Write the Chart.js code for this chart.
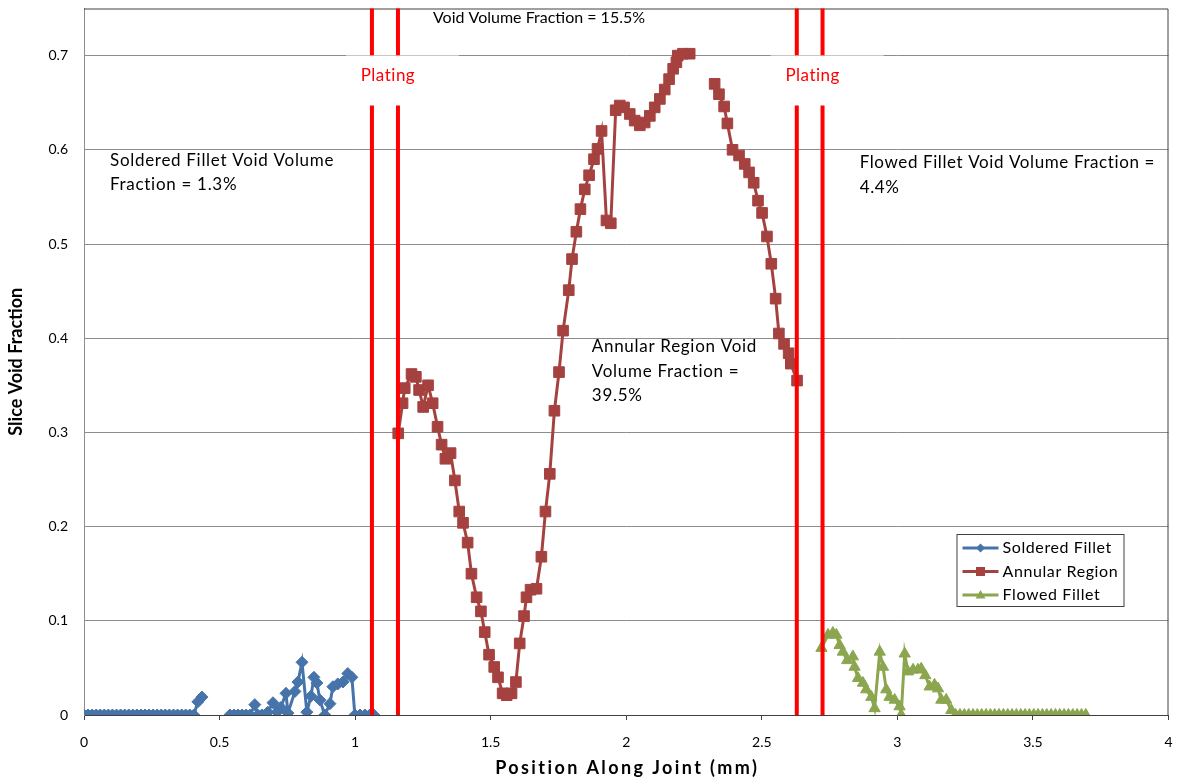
<!DOCTYPE html>
<html>
<head>
<meta charset="utf-8">
<script src="https://cdn.jsdelivr.net/npm/chart.js@4.4.0/dist/chart.umd.min.js"></script>
<style>
  html, body { margin: 0; padding: 0; background: #fff; }
</style>
</head>
<body>
<canvas id="chart" width="1177" height="782"></canvas>
<script>
// Soldered fillet (blue diamonds), null = break in the line
const solderedX = [0, 0.015, 0.03, 0.045, 0.06, 0.075, 0.09, 0.105, 0.12, 0.135, 0.15, 0.165, 0.18, 0.195,
  0.21, 0.225, 0.24, 0.255, 0.27, 0.285, 0.3, 0.315, 0.33, 0.345, 0.36, 0.375, 0.39, 0.405, 0.42, 0.435,
  0.49, 0.538, 0.553, 0.568, 0.583, 0.598, 0.613, 0.63, 0.641, 0.656, 0.667, 0.678, 0.697, 0.712, 0.726,
  0.745, 0.752, 0.778, 0.789, 0.804, 0.822, 0.837, 0.848, 0.859, 0.87, 0.888, 0.907, 0.918, 0.936, 0.955,
  0.973, 0.988, 0.999, 1.018, 1.036, 1.054, 1.069];
const solderedY = [0, 0, 0, 0, 0, 0, 0, 0, 0, 0, 0, 0, 0, 0,
  0, 0, 0, 0, 0, 0, 0, 0, 0, 0, 0, 0, 0, 0, 0.014, 0.019,
  null, 0, 0, 0, 0, 0, 0, 0.011, 0, 0, 0, 0.003, 0.013, 0.003, 0.008,
  0.023, 0.002, 0.025, 0.035, 0.056, 0.003, 0.020, 0.040, 0.034, 0.016, 0, 0.012, 0.030, 0.033, 0.035,
  0.044, 0.040, 0, 0, 0, 0, 0];

// Annular region (red squares)
const annularX = [1.159, 1.175, 1.183, 1.208, 1.224, 1.236, 1.251, 1.269, 1.286, 1.304, 1.319, 1.333,
  1.352, 1.368, 1.384, 1.398, 1.415, 1.429, 1.448, 1.464, 1.478, 1.494, 1.513, 1.527, 1.544, 1.559,
  1.577, 1.593, 1.607, 1.623, 1.632, 1.647, 1.669, 1.687, 1.702, 1.718, 1.735, 1.752, 1.767, 1.788,
  1.800, 1.816, 1.831, 1.847, 1.863, 1.881, 1.894, 1.909, 1.927, 1.943, 1.961, 1.976, 1.992, 2.013,
  2.031, 2.050, 2.068, 2.087, 2.105, 2.124, 2.142, 2.158, 2.173, 2.185, 2.190, 2.209, 2.234,
  2.28,
  2.326, 2.342, 2.361, 2.373, 2.392, 2.416, 2.437, 2.453, 2.470, 2.486, 2.501, 2.519, 2.535, 2.551,
  2.563, 2.582, 2.599, 2.607, 2.630];
const annularY = [0.299, 0.331, 0.347, 0.362, 0.359, 0.345, 0.327, 0.350, 0.331, 0.306, 0.287, 0.272,
  0.278, 0.249, 0.216, 0.204, 0.183, 0.150, 0.125, 0.110, 0.088, 0.064, 0.051, 0.040, 0.023, 0.021,
  0.023, 0.035, 0.076, 0.105, 0.125, 0.133, 0.134, 0.168, 0.216, 0.256, 0.323, 0.364, 0.408, 0.451,
  0.484, 0.513, 0.537, 0.558, 0.573, 0.590, 0.601, 0.620, 0.525, 0.522, 0.642, 0.647, 0.645, 0.638,
  0.631, 0.626, 0.629, 0.636, 0.645, 0.654, 0.664, 0.675, 0.686, 0.693, 0.700, 0.702, 0.702,
  null,
  0.670, 0.659, 0.646, 0.628, 0.600, 0.594, 0.585, 0.576, 0.565, 0.546, 0.533, 0.508, 0.479, 0.442,
  0.405, 0.394, 0.384, 0.373, 0.355];

// Flowed fillet (green triangles)
const flowedX = [2.720, 2.744, 2.762, 2.775, 2.787, 2.799, 2.815, 2.836, 2.842, 2.855, 2.873, 2.885,
  2.904, 2.916, 2.935, 2.947, 2.959, 2.971, 2.990, 3.008, 3.014, 3.027, 3.039, 3.058, 3.076, 3.088,
  3.103, 3.119, 3.137, 3.150, 3.162, 3.180, 3.199, 3.215, 3.231, 3.247, 3.263, 3.279, 3.295, 3.311,
  3.327, 3.343, 3.359, 3.375, 3.391, 3.407, 3.423, 3.439, 3.455, 3.471, 3.487, 3.503, 3.519, 3.535,
  3.551, 3.567, 3.583, 3.599, 3.615, 3.631, 3.647, 3.663, 3.679, 3.695];
const flowedY = [0.071, 0.085, 0.087, 0.085, 0.074, 0.067, 0.058, 0.062, 0.051, 0.039, 0.034, 0.027,
  0.019, 0.007, 0.067, 0.051, 0.027, 0.019, 0.016, 0.009, 0, 0.065, 0.046, 0.048, 0.048, 0.049,
  0.042, 0.030, 0.032, 0.028, 0.016, 0.016, 0.005, 0, 0, 0, 0, 0, 0, 0,
  0, 0, 0, 0, 0, 0, 0, 0, 0, 0, 0, 0, 0, 0,
  0, 0, 0, 0, 0, 0, 0, 0, 0, 0];

const seriesNames = ['Soldered Fillet', 'Annular Region', 'Flowed Fillet'];
const xTickValues = [0, 0.5, 1, 1.5, 2, 2.5, 3, 3.5, 4];
const xTickLabels = ['0', '0.5', '1', '1.5', '2', '2.5', '3', '3.5', '4'];
const yTickValues = [0, 0.1, 0.2, 0.3, 0.4, 0.5, 0.6, 0.7];
const yTickLabels = ['0', '0.1', '0.2', '0.3', '0.4', '0.5', '0.6', '0.7'];
const xTitle = 'Position Along Joint (mm)';
const yTitle = 'Slice Void Fraction';

// plating boundaries (mm)
const platingLines = [1.062, 1.158, 2.629, 2.724];

// text notes, anchored in data units (left edge, middle of first line)
const notes = [
  { x: 1.287, y: 0.740, size: 16, spacing: 0, lines: ['Void Volume Fraction = 15.5%'] },
  { x: 0.096, y: 0.589, size: 17, spacing: 0.7, lines: ['Soldered Fillet Void Volume', 'Fraction = 1.3%'] },
  { x: 1.873, y: 0.391, size: 17, spacing: 0.7, lines: ['Annular Region Void', 'Volume Fraction =', '39.5%'] },
  { x: 2.861, y: 0.586, size: 17, spacing: 0.6, lines: ['Flowed Fillet Void Volume Fraction =', '4.4%'] }
];

const FONT = 'Lato, "Open Sans", sans-serif';

function toPoints(xs, ys) {
  return xs.map((x, i) => ({ x: x, y: ys[i] }));
}

const overlay = {
  id: 'overlay',
  afterDatasetsDraw(chart) {
    const { ctx, chartArea: a, scales: { x, y } } = chart;
    ctx.save();

    // plot area frame (top and right)
    ctx.strokeStyle = '#404040';
    ctx.lineWidth = 1;
    ctx.beginPath();
    ctx.moveTo(a.left, a.top + 0.5);
    ctx.lineTo(a.right - 0.5, a.top + 0.5);
    ctx.lineTo(a.right - 0.5, a.bottom);
    ctx.stroke();

    // red plating lines
    ctx.strokeStyle = '#ff0000';
    ctx.lineWidth = 4;
    platingLines.forEach(v => {
      const px = x.getPixelForValue(v);
      ctx.beginPath();
      ctx.moveTo(px, a.top);
      ctx.lineTo(px, a.bottom);
      ctx.stroke();
    });

    // "Plating" labels on white boxes
    ctx.font = '17px ' + FONT;
    ctx.letterSpacing = '0.5px';
    ctx.textAlign = 'center';
    ctx.textBaseline = 'middle';
    for (let i = 0; i < platingLines.length; i += 2) {
      const mid = (x.getPixelForValue(platingLines[i]) + x.getPixelForValue(platingLines[i + 1])) / 2;
      ctx.fillStyle = '#fff';
      ctx.fillRect(mid - 39, a.top + 47, 113, 50);
      ctx.fillStyle = '#ff0000';
      ctx.fillText('Plating', mid + 3, a.top + 67);
    }

    // notes
    ctx.fillStyle = '#000';
    ctx.textAlign = 'left';
    notes.forEach(n => {
      ctx.font = n.size + 'px ' + FONT;
      ctx.letterSpacing = n.spacing + 'px';
      const px = x.getPixelForValue(n.x);
      const py = y.getPixelForValue(n.y);
      n.lines.forEach((t, k) => ctx.fillText(t, px, py + k * 24.5));
    });

    ctx.restore();
  },
  afterDraw(chart) {
    const { ctx, chartArea: a } = chart;
    ctx.save();

    // x axis title
    ctx.fillStyle = '#000';
    ctx.font = 'bold 18px ' + FONT;
    ctx.letterSpacing = '2.4px';
    ctx.textAlign = 'center';
    ctx.textBaseline = 'middle';
    ctx.fillText(xTitle, (a.left + a.right) / 2 + 1, a.bottom + 53);

    // legend
    const bx = a.right - 212, by = a.bottom - 181, bw = 167, bh = 72;
    ctx.fillStyle = '#fff';
    ctx.fillRect(bx, by, bw, bh);
    ctx.strokeStyle = '#404040';
    ctx.lineWidth = 1;
    ctx.strokeRect(bx + 0.5, by + 0.5, bw, bh);
    ctx.font = '16px ' + FONT;
    ctx.letterSpacing = '0.6px';
    ctx.textAlign = 'left';
    chart.data.datasets.forEach((ds, i) => {
      const cy = by + 14 + i * 23.5;
      const cx = bx + 24;
      ctx.strokeStyle = ds.borderColor;
      ctx.lineWidth = 3;
      ctx.beginPath();
      ctx.moveTo(bx + 6, cy);
      ctx.lineTo(bx + 42, cy);
      ctx.stroke();
      ctx.fillStyle = ds.borderColor;
      ctx.beginPath();
      if (ds.pointStyle === 'rectRot') {
        ctx.moveTo(cx, cy - 4.5); ctx.lineTo(cx + 4.5, cy); ctx.lineTo(cx, cy + 4.5); ctx.lineTo(cx - 4.5, cy);
      } else if (ds.pointStyle === 'rect') {
        ctx.rect(cx - 4.5, cy - 4.5, 9, 9);
      } else {
        ctx.moveTo(cx, cy - 5); ctx.lineTo(cx + 5, cy + 3.5); ctx.lineTo(cx - 5, cy + 3.5);
      }
      ctx.closePath();
      ctx.fill();
      ctx.fillStyle = '#000';
      ctx.fillText(seriesNames[i], bx + 46, cy);
    });
    ctx.restore();
  }
};

new Chart(document.getElementById('chart'), {
  type: 'scatter',
  data: {
    datasets: [
      {
        label: seriesNames[0],
        data: toPoints(solderedX, solderedY),
        showLine: true, spanGaps: false,
        borderColor: '#4674AA', backgroundColor: '#4674AA', borderWidth: 3,
        pointStyle: 'rectRot', pointRadius: 6, pointBorderWidth: 1
      },
      {
        label: seriesNames[1],
        data: toPoints(annularX, annularY),
        showLine: true, spanGaps: false,
        borderColor: '#A5423F', backgroundColor: '#A5423F', borderWidth: 3,
        pointStyle: 'rect', pointRadius: 7.5, pointBorderWidth: 1
      },
      {
        label: seriesNames[2],
        data: toPoints(flowedX, flowedY),
        showLine: true, spanGaps: false,
        borderColor: '#8BA64E', backgroundColor: '#8BA64E', borderWidth: 3,
        pointStyle: 'triangle', pointRadius: 6.5, pointBorderWidth: 1
      }
    ]
  },
  options: {
    responsive: false,
    animation: false,
    layout: { padding: { top: 6, right: 8, left: 0, bottom: 0 } },
    plugins: { legend: { display: false }, tooltip: { enabled: false } },
    scales: {
      x: {
        type: 'linear', min: 0, max: 4,
        afterBuildTicks: s => { s.ticks = xTickValues.map(v => ({ value: v })); },
        afterFit: s => { s.height = 67; s.paddingLeft = 0; s.paddingRight = 0; },
        ticks: {
          callback: v => xTickLabels[xTickValues.indexOf(v)],
          color: '#000', font: { family: FONT, size: 14 }, padding: 14, maxRotation: 0
        },
        grid: { drawOnChartArea: false, drawTicks: true, tickLength: 5, color: '#404040' },
        border: { color: '#404040' },
        title: { display: false }
      },
      y: {
        min: 0, max: 0.75,
        afterBuildTicks: s => { s.ticks = yTickValues.map(v => ({ value: v })); },
        afterFit: s => { s.width = 84; s.paddingTop = 0; s.paddingBottom = 0; },
        ticks: {
          callback: v => yTickLabels[yTickValues.indexOf(v)],
          color: '#000', font: { family: FONT, size: 14 }, padding: 16
        },
        grid: { drawTicks: false, color: '#8c8c8c' },
        border: { color: '#8c8c8c' },
        title: {
          display: true, text: yTitle, color: '#000',
          font: { family: FONT, size: 18, weight: 'bold' }, padding: { top: 5, bottom: 0 }
        }
      }
    }
  },
  plugins: [overlay]
});
</script>
</body>
</html>
